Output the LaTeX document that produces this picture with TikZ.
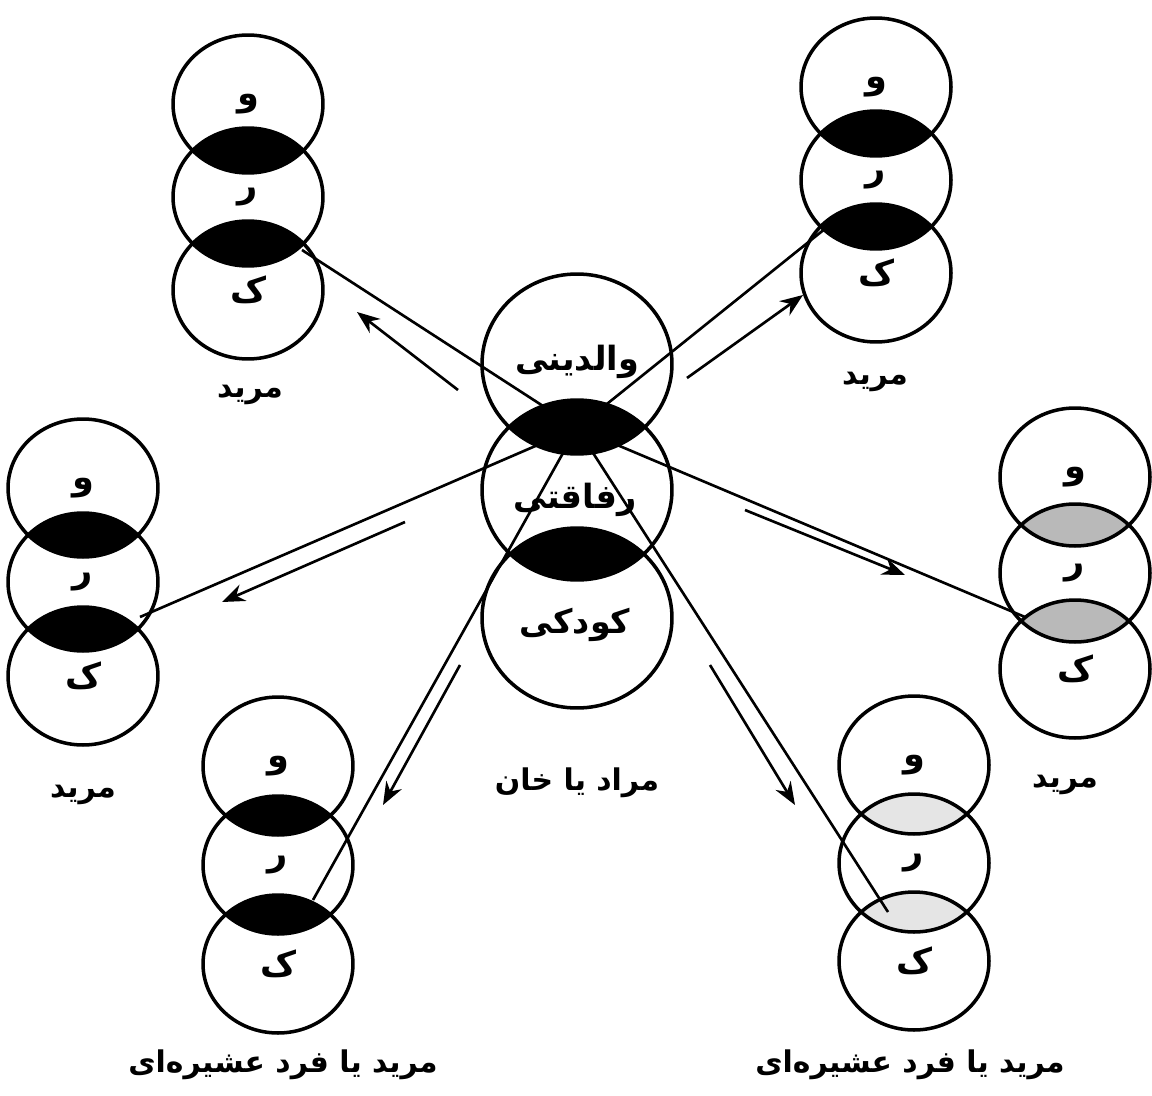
\documentclass[tikz,border=0pt]{standalone}
\usepackage{fontspec}
\newfontfamily\arabicfont[Script=Arabic]{DejaVu Sans}
\TeXXeTstate=1
\usetikzlibrary{shapes.geometric}
\usetikzlibrary{arrows.meta}

\newcommand{\fa}[1]{\beginR #1\endR}

\tikzset{
  ring/.style={draw, ellipse, line width=2pt, minimum width=3cm, minimum height=2.76cm, inner sep=0pt,
    font=\arabicfont\bfseries\fontsize{20}{24}\selectfont},
  bigring/.style={ring, minimum width=3.8cm, minimum height=3.6cm},
  inword/.style={font=\arabicfont\bfseries\fontsize{19}{22}\selectfont, inner sep=1pt},
  caption/.style={font=\arabicfont\bfseries\fontsize{17}{20}\selectfont, inner sep=1pt},
  tie/.style={line width=1.5pt},
  flow/.style={line width=1.5pt, -{Stealth[length=13pt,width=10pt]}},
}

\begin{document}
\begin{tikzpicture}[x=0.02cm, y=-0.02cm]
  \useasboundingbox (0,0) rectangle (1152,1095);

  % lenses of the six member stacks
  \foreach \n/\x/\y/\s/\up/\lo in {tl/248/104/93/black/black, tr/876/87/93/black/black,
      ml/83/488/94/black/black, mr/1075/477/96/gray!55/gray!55,
      bl/278/766/99/black/black, br/914/765/98/gray!20/gray!20} {
    \begin{scope}
      \clip (\x,\y+\s) ellipse [x radius=1.5cm, y radius=1.38cm];
      \fill[\up] (\x,\y) ellipse [x radius=1.5cm, y radius=1.38cm];
      \fill[\lo] (\x,\y+2*\s) ellipse [x radius=1.5cm, y radius=1.38cm];
    \end{scope}
  }

  % lenses of the leader stack
  \begin{scope}
    \clip (577,490) ellipse [x radius=1.9cm, y radius=1.8cm];
    \fill (577,364) ellipse [x radius=1.9cm, y radius=1.8cm];
    \fill (577,618) ellipse [x radius=1.9cm, y radius=1.8cm];
  \end{scope}

  % member stacks
  \foreach \n/\x/\y/\s in {tl/248/104/93, tr/876/87/93, ml/83/488/94,
      mr/1075/477/96, bl/278/766/99, br/914/765/98} {
    \node[ring] (\n1) at (\x,\y) {\fa{و}};
    \node[ring] (\n2) at (\x,\y+\s) {\fa{ر}};
    \node[ring] (\n3) at (\x,\y+2*\s) {\fa{ک}};
  }

  % leader stack
  \node[bigring] (kh1) at (577,364) {};
  \node[bigring] (kh2) at (577,490) {};
  \node[bigring] (kh3) at (577,618) {};
  \node[inword] (kh1txt) at (577,362) {\fa{والدینی}};
  \node[inword] (kh2txt) at (575,500) {\fa{رفاقتی}};
  \node[inword] (kh3txt) at (575,625) {\fa{کودکی}};

  % captions
  \node[caption] (tlcap) at (250,395) {\fa{مرید}};
  \node[caption] (trcap) at (875,382) {\fa{مرید}};
  \node[caption] (mlcap) at (83,795) {\fa{مرید}};
  \node[caption] (mrcap) at (1065,785) {\fa{مرید}};
  \node[caption] (blcap) at (283,1065) {\fa{مرید یا فرد عشیره^^^^200cای}};
  \node[caption] (brcap) at (910,1065) {\fa{مرید یا فرد عشیره^^^^200cای}};
  \node[caption] (khcap) at (577,783) {\fa{مراد یا خان}};

  % ties from the leader to each member
  \coordinate (hub) at (577,428);
  \foreach \n/\ex/\ey in {tl/302/250, tr/826/228, ml/140/617,
      mr/1025/617, bl/313/900, br/888/912} {
    \coordinate (\n end) at (\ex,\ey);
    \draw[tie] (hub) -- (\n end);
  }

  % arrows beside the ties
  \foreach \n/\ax/\ay/\bx/\by in {tl/458/390/357/312, tr/687/378/803/295,
      ml/405/522/222/602, mr/745/510/905/575,
      bl/460/665/383/805, br/710/665/795/805} {
    \coordinate (\n from) at (\ax,\ay);
    \coordinate (\n to) at (\bx,\by);
    \draw[flow] (\n from) -- (\n to);
  }
\end{tikzpicture}
\end{document}
